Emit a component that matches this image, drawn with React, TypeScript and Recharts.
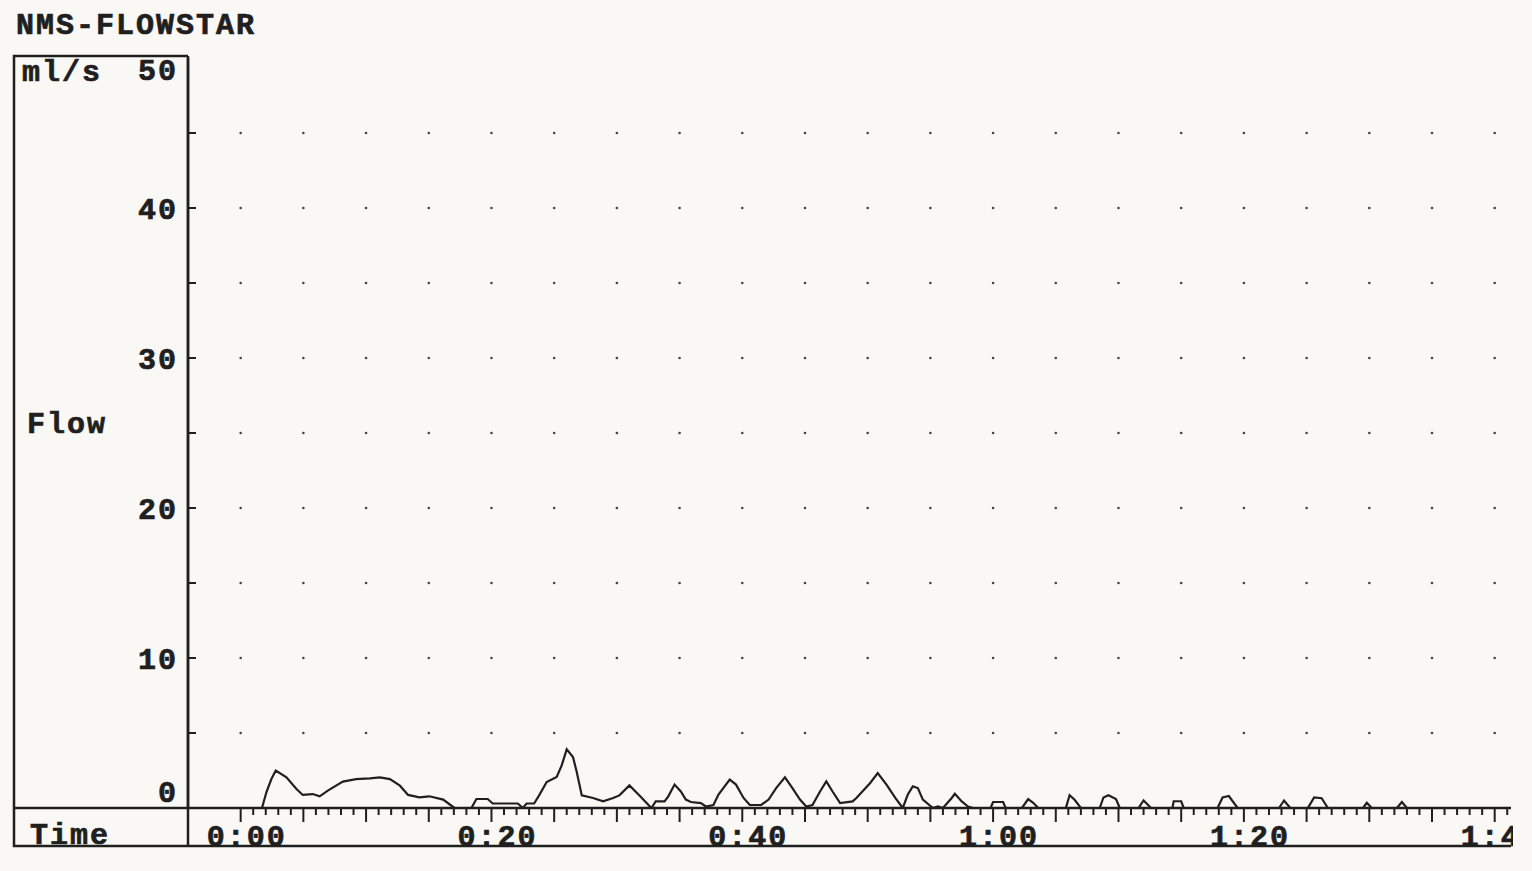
import React from 'react';
import { LineChart, Line, XAxis, YAxis, ReferenceDot } from 'recharts';

// seconds since start of voiding
const TIME_S = [
  1.7, 2.05, 2.45, 2.8, 3.65, 4.45, 4.95, 5.75, 6.3, 6.95, 8.15, 9.2, 10.3, 11.1, 11.9, 12.7,
  13.35, 14.25, 15.05, 16.15, 17.05, 18.4, 18.8, 19.7, 20.1, 22.1, 22.5, 22.8, 23.4, 23.8,
  24.4, 25.2, 25.6, 26.0, 26.5, 26.8, 27.2, 28.1, 28.9, 29.7, 30.2, 31.0, 31.8, 32.75, 33.1,
  33.8, 34.1, 34.6, 35.1, 35.5, 35.9, 36.7, 37.1, 37.7, 38.1, 39.0, 39.5, 40.1, 40.6, 41.5,
  42.1, 42.7, 43.4, 44.0, 44.6, 45.1, 45.6, 46.2, 46.7, 47.2, 47.8, 48.8, 49.1, 50.2, 50.8,
  51.5, 52.2, 52.8, 53.2, 53.6, 54.0, 54.4, 55.2, 55.6, 56.0, 56.7, 56.95, 57.5, 58.0, 58.4,
  59.8, 60.0, 60.8, 61.0, 62.3, 62.8, 63.2, 63.6, 65.8, 66.1, 66.5, 67.0, 68.5, 68.8, 69.2,
  69.8, 70.1, 71.6, 72.0, 72.6, 74.3, 74.4, 75.0, 75.2, 77.9, 78.3, 78.8, 79.5, 82.8, 83.2,
  83.7, 85.1, 85.6, 86.2, 86.7, 89.5, 89.8, 90.2, 92.2, 92.6, 93.0, 101.3,
];

// flow, ml/s
const FLOW = [
  0, 1.05, 1.93, 2.5, 2.05, 1.27, 0.87, 0.93, 0.78, 1.16, 1.76, 1.93, 1.98, 2.04, 1.93, 1.49,
  0.87, 0.71, 0.78, 0.56, 0, 0, 0.6, 0.6, 0.3, 0.3, 0, 0.3, 0.3, 0.84,
  1.73, 2.07, 2.84, 3.91, 3.4, 2.4, 0.84, 0.67, 0.44, 0.67, 0.84, 1.51, 0.84, 0, 0.44,
  0.44, 0.78, 1.56, 1.1, 0.56, 0.4, 0.33, 0.1, 0.2, 0.9, 1.89, 1.56, 0.67, 0.2, 0.2,
  0.56, 1.33, 2.04, 1.33, 0.56, 0.1, 0.2, 1.1, 1.78, 1.1, 0.33, 0.44, 0.67, 1.67, 2.33,
  1.56, 0.67, 0, 0.9, 1.44, 1.33, 0.56, 0, 0.1, 0, 0.67, 0.95, 0.44, 0.1, 0,
  0, 0.4, 0.4, 0, 0, 0.6, 0.35, 0, 0, 0.85, 0.55, 0, 0, 0.7, 0.85,
  0.6, 0, 0, 0.5, 0, 0, 0.45, 0.45, 0, 0, 0.7, 0.8, 0, 0, 0.5,
  0, 0, 0.7, 0.65, 0, 0, 0.35, 0, 0, 0.4, 0, 0,
];

const FLOW_TICKS = [0, 5, 10, 15, 20, 25, 30, 35, 40, 45, 50];
const LABEL_SECONDS = [0, 20, 40, 60, 80, 100];
const LABEL_TEXT = ['0:00', '0:20', '0:40', '1:00', '1:20', '1:40'];
const SECOND_TICKS = Array.from({ length: 102 }, (_, i) => i);

const GRID_SECONDS = [0, 5, 10, 15, 20, 25, 30, 35, 40, 45, 50, 55, 60, 65, 70, 75, 80, 85, 90, 95, 100];
const GRID_LEVELS = [5, 10, 15, 20, 25, 30, 35, 40, 45];

const data = TIME_S.map((t, i) => ({ t, flow: FLOW[i] }));

const INK = '#1f1f1f';
const FONT = '"Liberation Mono", "DejaVu Sans Mono", monospace';
const textStyle = {
  fontFamily: FONT,
  fontWeight: 700,
  fontSize: 30,
  letterSpacing: 2,
  fill: INK,
  stroke: INK,
  strokeWidth: 0.7,
};

const FlowTick = (props: any) => {
  const { x, y, payload } = props;
  const v = payload.value;
  const dy = v === 0 ? -17 : v === 50 ? 11 : 0;
  return (
    <g>
      {v !== 0 && v !== 50 && <line x1={x} x2={x + 8} y1={y} y2={y} stroke={INK} strokeWidth={2} />}
      {v % 10 === 0 && (
        <text x={x - 10} y={y + dy} dy="0.35em" textAnchor="end" style={textStyle}>
          {v}
        </text>
      )}
    </g>
  );
};

const TimeTick = (props: any) => {
  const { x, y, payload } = props;
  const v = payload.value;
  const idx = LABEL_SECONDS.indexOf(v);
  return (
    <g>
      <line x1={x} x2={x} y1={y} y2={y + (v % 5 === 0 ? 14 : 7)} stroke={INK} strokeWidth={2} />
      {idx >= 0 && (
        <text x={x + 6} y={y + 27} dy="0.35em" textAnchor="middle" style={textStyle}>
          {LABEL_TEXT[idx]}
        </text>
      )}
    </g>
  );
};

const App: React.FC = () => (
  <div style={{ position: 'relative', width: 1513, height: 871, overflow: 'hidden' }}>
    <style>{`body{margin:0;background:#f9f8f5}`}</style>
    <LineChart width={1532} height={871} data={data} margin={{ top: 58, right: 21, bottom: 13, left: 128 }}>
      <XAxis
        dataKey="t"
        type="number"
        domain={[-4.2, 101.3]}
        ticks={SECOND_TICKS}
        interval={0}
        allowDataOverflow
        height={50}
        tickSize={0}
        tickMargin={0}
        tickLine={false}
        axisLine={{ stroke: INK, strokeWidth: 2.5 }}
        tick={TimeTick}
      />
      <YAxis
        type="number"
        domain={[0, 50]}
        ticks={FLOW_TICKS}
        interval={0}
        allowDataOverflow
        width={60}
        tickSize={0}
        tickMargin={0}
        tickLine={false}
        axisLine={{ stroke: INK, strokeWidth: 2.5 }}
        tick={FlowTick}
      />
      {GRID_SECONDS.map((s) =>
        GRID_LEVELS.map((l) => (
          <ReferenceDot key={`${s}-${l}`} x={s} y={l} r={1.3} fill="#444" stroke="none" ifOverflow="visible" />
        ))
      )}
      <Line
        type="linear"
        dataKey="flow"
        stroke={INK}
        strokeWidth={2.2}
        dot={false}
        isAnimationActive={false}
      />
    </LineChart>
    <svg width={1513} height={871} style={{ position: 'absolute', left: 0, top: 0, pointerEvents: 'none' }}>
      <polyline points="188,56 14,56 14,846 1511,846" fill="none" stroke={INK} strokeWidth={2.5} />
      <line x1={14} x2={188} y1={808} y2={808} stroke={INK} strokeWidth={2.5} />
      <line x1={188} x2={188} y1={56} y2={846} stroke={INK} strokeWidth={2.5} />
      <text x={16} y={23} dy="0.35em" style={textStyle}>NMS-FLOWSTAR</text>
      <text x={22} y={70} dy="0.35em" style={textStyle}>ml/s</text>
      <text x={27} y={422} dy="0.35em" style={textStyle}>Flow</text>
      <text x={30} y={833} dy="0.35em" style={textStyle}>Time</text>
    </svg>
  </div>
);

export default App;
